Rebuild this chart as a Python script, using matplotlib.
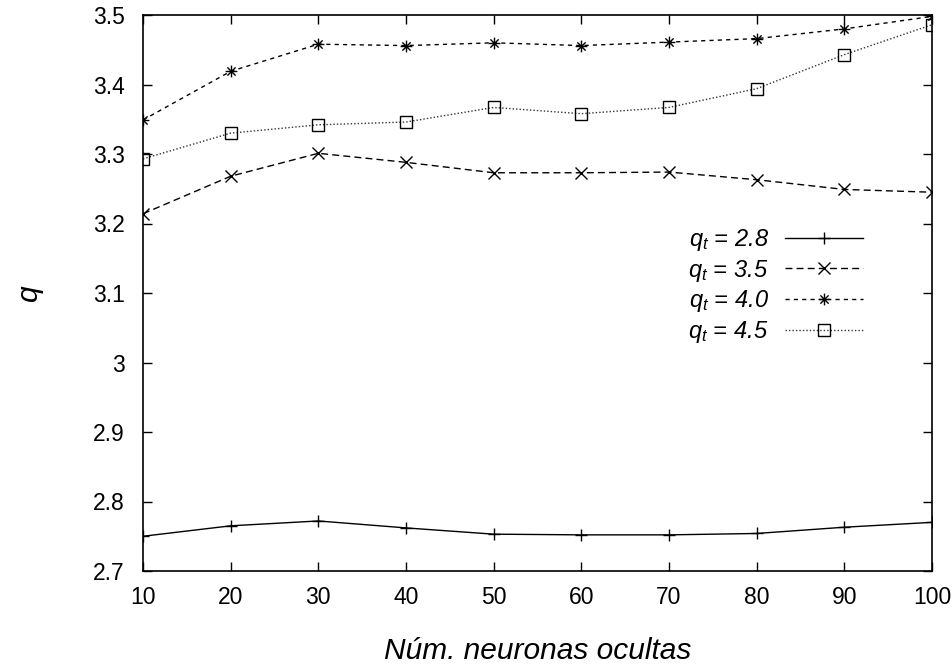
import matplotlib
matplotlib.use("Agg")
import matplotlib.pyplot as plt
from matplotlib.path import Path
from matplotlib.ticker import FuncFormatter, MultipleLocator

plt.rcParams['font.family'] = ['Liberation Sans', 'DejaVu Sans']
plt.rcParams['mathtext.fontset'] = 'custom'
plt.rcParams['mathtext.it'] = 'Liberation Sans:italic'
plt.rcParams['mathtext.rm'] = 'Liberation Sans'

neurons = [10, 20, 30, 40, 50, 60, 70, 80, 90, 100]
q_28 = [2.750, 2.765, 2.772, 2.762, 2.753, 2.752, 2.752, 2.754, 2.763, 2.770]
q_35 = [3.214, 3.268, 3.301, 3.288, 3.273, 3.273, 3.274, 3.263, 3.249, 3.245]
q_40 = [3.349, 3.419, 3.458, 3.456, 3.460, 3.456, 3.461, 3.466, 3.480, 3.498]
q_45 = [3.293, 3.330, 3.342, 3.346, 3.367, 3.358, 3.367, 3.394, 3.443, 3.486]
labels = ['2.8', '3.5', '4.0', '4.5']

star = Path([(-1, 0), (1, 0), (0, -1), (0, 1), (-0.7, -0.7), (0.7, 0.7), (-0.7, 0.7), (0.7, -0.7)],
            [Path.MOVETO, Path.LINETO] * 4)

fig = plt.figure(figsize=(9.52, 6.64), dpi=100)
ax = fig.add_axes([143/952, 1-571/664, (932-143)/952, (571-15)/664])

lw = 1.0
ax.plot(neurons, q_28, color='black', lw=lw, ls='-', marker='+', ms=8.5, mew=1.0,
        label=r'$q_t$ = ' + labels[0])
ax.plot(neurons, q_35, color='black', lw=lw, ls=(0, (5, 3)), marker='x', ms=8, mew=1.0,
        label=r'$q_t$ = ' + labels[1])
ax.plot(neurons, q_40, color='black', lw=lw, ls=(0, (3, 3)), marker=star, ms=8.5, mew=1.0,
        mfc='none', label=r'$q_t$ = ' + labels[2])
ax.plot(neurons, q_45, color='#333333', lw=lw, ls=(0, (1, 1.5)), marker='s', ms=8, mew=1.0,
        mfc='none', mec='black', label=r'$q_t$ = ' + labels[3])

ax.set_xlim(10, 100)
ax.set_ylim(2.7, 3.5)
ax.xaxis.set_major_locator(MultipleLocator(10))
ax.yaxis.set_major_locator(MultipleLocator(0.1))
ax.yaxis.set_major_formatter(FuncFormatter(lambda v, p: '%g' % round(v, 3)))
ax.tick_params(direction='in', length=6.5, width=1.0, top=True, right=True,
               labelsize=16.5, pad=11)
ax.tick_params(axis='y', pad=13)
for s in ax.spines.values():
    s.set_linewidth(1.2)

ax.set_xlabel('Núm. neuronas ocultas', fontsize=21.5, style='italic', labelpad=20)
ax.set_ylabel('q', fontsize=21.5, style='italic', labelpad=36)

leg = ax.legend(loc='upper right', bbox_to_anchor=((863-143)/789, (571-227)/556),
                frameon=False, markerfirst=False, handlelength=3.3, handletextpad=0.7,
                labelspacing=0.2, borderpad=0, borderaxespad=0,
                prop={'size': 17, 'style': 'italic'})

fig.savefig('out.png', dpi=100)
